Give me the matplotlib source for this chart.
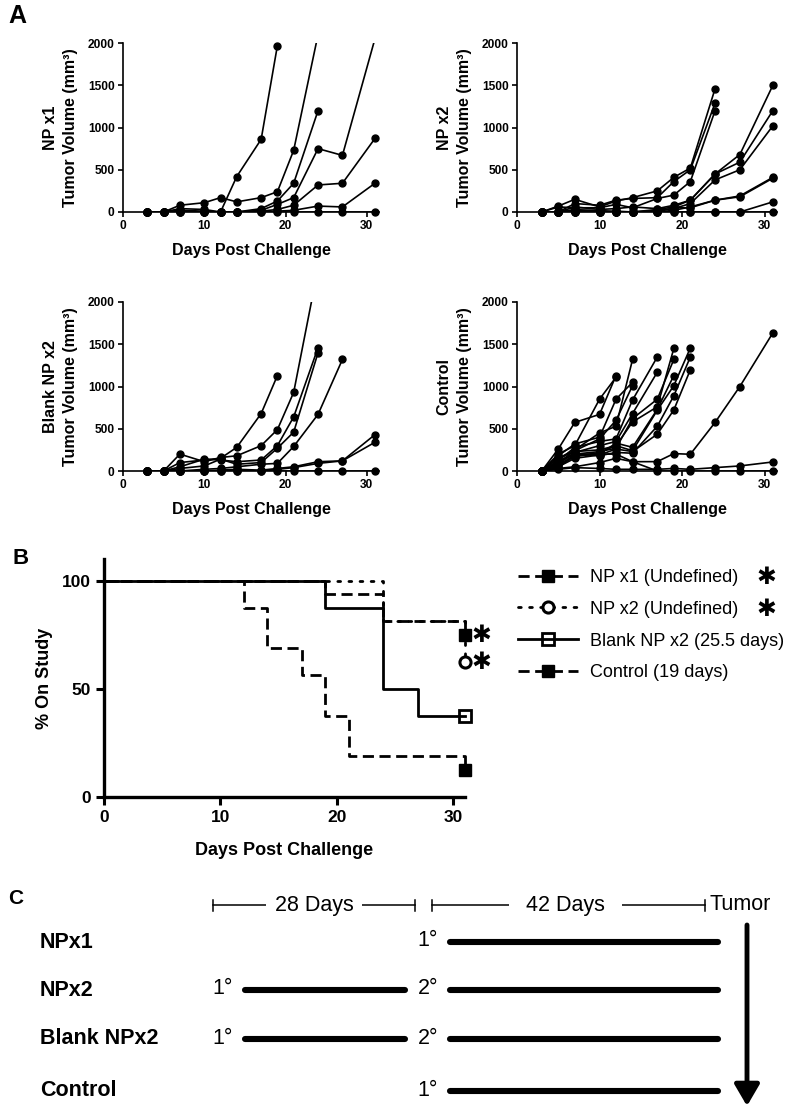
import numpy as np
import matplotlib
matplotlib.use("Agg")
import matplotlib.pyplot as plt
from matplotlib.lines import Line2D

plt.rcParams['font.family'] = ['Liberation Sans', 'DejaVu Sans']

# measurement days for the tumor curves
days = [3, 5, 7, 10, 12, 14, 17, 19, 21, 24, 27, 31]

# tumor volume (mm3) per mouse, each list runs from day 3 until the mouse left the study
np1_mice = [
    [0, 0, 40, 30, 0, 420, 860, 1970],
    [0, 0, 80, 110, 170, 120, 170, 240, 730, 2100],
    [0, 0, 20, 10, 0, 0, 40, 130, 340, 1200],
    [0, 0, 10, 0, 0, 0, 20, 90, 170, 750, 670, 2050],
    [0, 0, 0, 0, 0, 0, 10, 30, 80, 320, 340, 870],
    [0, 0, 0, 0, 0, 0, 0, 10, 20, 70, 60, 340],
    [0, 0, 0, 0, 0, 0, 0, 0, 0, 0, 0, 0],
]
np2_mice = [
    [0, 70, 150, 60, 130, 170, 250, 410, 520, 1460],
    [0, 0, 100, 80, 140, 160, 170, 360, 500, 1290],
    [0, 60, 50, 50, 90, 50, 160, 200, 360, 1200],
    [0, 0, 60, 30, 40, 60, 40, 80, 140, 450, 680, 1500],
    [0, 0, 20, 20, 0, 0, 30, 60, 140, 450, 590, 1200],
    [0, 0, 0, 0, 0, 0, 20, 40, 100, 380, 500, 1020],
    [0, 0, 30, 10, 10, 0, 0, 50, 50, 140, 190, 410],
    [0, 0, 0, 0, 0, 0, 0, 20, 60, 140, 180, 400],
    [0, 0, 0, 0, 0, 0, 0, 0, 0, 0, 0, 120],
    [0, 0, 0, 0, 0, 0, 0, 0, 0, 0, 0, 0],
]
blank_mice = [
    [0, 0, 100, 130, 150, 280, 680, 1130],
    [0, 0, 200, 110, 160, 180, 300, 490, 930, 2400],
    [0, 0, 50, 140, 130, 110, 130, 300, 640, 1460],
    [0, 0, 30, 60, 140, 80, 100, 270, 460, 1400],
    [0, 0, 0, 20, 30, 50, 80, 90, 290, 670, 1320],
    [0, 0, 0, 0, 10, 20, 10, 30, 50, 110, 120, 430],
    [0, 0, 0, 0, 0, 0, 0, 20, 40, 90, 120, 340],
    [0, 0, 0, 0, 0, 0, 0, 0, 0, 0, 0, 0],
]
control_mice = [
    [0, 260, 575, 670, 1130],
    [0, 200, 300, 850, 1110],
    [0, 150, 250, 450, 530, 1320],
    [0, 180, 320, 400, 850, 1050],
    [0, 100, 240, 380, 600, 1010],
    [0, 120, 280, 350, 380, 840, 1350],
    [0, 90, 220, 300, 350, 680, 1170],
    [0, 150, 230, 250, 300, 580, 760, 1450],
    [0, 110, 200, 230, 270, 620, 850, 1320],
    [0, 80, 180, 200, 330, 280, 730, 1130],
    [0, 60, 170, 220, 300, 240, 720, 1010, 1456],
    [0, 100, 200, 180, 220, 210, 530, 890, 1349],
    [0, 50, 150, 190, 260, 230, 436, 722, 1198],
    [0, 40, 200, 200, 200, 110, 111, 206, 198, 575, 1000, 1635],
    [0, 30, 50, 100, 150, 110, 0, 0, 0, 0, 0, 0],
    [0, 20, 40, 30, 20, 20, 20, 30, 20, 40, 60, 107],
]

# Kaplan-Meier steps (% on study)
km_np1_t = [0, 19, 24, 31]
km_np1_s = [100, 93.75, 81.25, 75]
km_np2_t = [0, 24, 31]
km_np2_s = [100, 81.25, 62.5]
km_blank_t = [0, 19, 24, 27, 31]
km_blank_s = [100, 87.5, 50, 37.5, 37.5]
km_ctrl_t = [0, 12, 14, 17, 19, 21, 31]
km_ctrl_s = [100, 87.5, 68.75, 56.25, 37.5, 18.75, 12.5]

km_labels = ['NP x1 (Undefined)', 'NP x2 (Undefined)',
             'Blank NP x2 (25.5 days)', 'Control (19 days)']

# schedule (panel C)
c_groups = ['NPx1', 'NPx2', 'Blank NPx2', 'Control']
c_doses = [['', '1°'], ['1°', '2°'], ['1°', '2°'], ['', '1°']]
c_intervals = ['28 Days', '42 Days']

W, H = 800, 1110
fig = plt.figure(figsize=(W / 100, H / 100), dpi=100)


def px_axes(left, top, right, bottom):
    return fig.add_axes([left / W, 1 - bottom / H, (right - left) / W, (bottom - top) / H])


def tumor_panel(ax, mice, name):
    for v in mice:
        d = np.array(days[:len(v)])
        v = np.array(v, float)
        ax.plot(d, v, color='k', lw=1.2, zorder=2)
        keep = v <= 2000
        ax.plot(d[keep], v[keep], 'o', color='k', ms=5, clip_on=False, zorder=3)
    ax.set_xlim(0, 31.5)
    ax.set_ylim(0, 2000)
    ax.set_xticks([0, 10, 20, 30])
    ax.set_yticks([0, 500, 1000, 1500, 2000])
    for s in ['top', 'right']:
        ax.spines[s].set_visible(False)
    for s in ['left', 'bottom']:
        ax.spines[s].set_linewidth(1.2)
    ax.tick_params(width=1.2, length=3.5, labelsize=8.6, pad=2.5)
    for lab in ax.get_xticklabels() + ax.get_yticklabels():
        lab.set_fontweight('bold')
    ax.set_xlabel('Days Post Challenge', fontsize=11.5, fontweight='bold', labelpad=8)
    ax.set_ylabel(name + '\nTumor Volume (mm³)', fontsize=11.5, fontweight='bold',
                  labelpad=7, linespacing=1.45)


tumor_panel(px_axes(123, 43, 379, 212), np1_mice, 'NP x1')
tumor_panel(px_axes(517, 43, 777, 212), np2_mice, 'NP x2')
tumor_panel(px_axes(123, 302, 379, 471), blank_mice, 'Blank NP x2')
tumor_panel(px_axes(517, 302, 777, 471), control_mice, 'Control')

# ---- panel B
axb = px_axes(104, 559, 465, 797)
lw = 2.0
axb.plot(km_np1_t, km_np1_s, drawstyle='steps-post', color='k', lw=lw,
         dashes=(4, 2), marker='s', ms=8, markevery=[-1], clip_on=False, zorder=4)
axb.plot(km_np2_t, km_np2_s, drawstyle='steps-post', color='k', lw=lw,
         dashes=(1, 3), dash_capstyle='round', marker='o', ms=8, mew=2.2,
         mfc='white', markevery=[-1], clip_on=False, zorder=4)
axb.plot(km_blank_t, km_blank_s, drawstyle='steps-post', color='k', lw=lw,
         marker='s', ms=8, mew=2, mfc='none', markevery=[-1], clip_on=False, zorder=3)
axb.plot(km_ctrl_t, km_ctrl_s, drawstyle='steps-post', color='k', lw=lw,
         dashes=(4, 2), marker='s', ms=8, markevery=[-1], clip_on=False, zorder=3)
axb.set_xlim(0, 31)
axb.set_ylim(0, 110)
axb.set_xticks([0, 10, 20, 30])
axb.set_yticks([0, 50, 100])
for s in ['top', 'right']:
    axb.spines[s].set_visible(False)
for s in ['left', 'bottom']:
    axb.spines[s].set_linewidth(2.4)
axb.tick_params(width=2.2, length=6, labelsize=12.5)
for lab in axb.get_xticklabels() + axb.get_yticklabels():
    lab.set_fontweight('bold')
axb.set_xlabel('Days Post Challenge', fontsize=13, fontweight='bold', labelpad=12)
axb.set_ylabel('% On Study', fontsize=13, fontweight='bold', labelpad=6)
for s_end in (km_np1_s[-1], km_np2_s[-1]):
    axb.text(32.4, s_end, '✱', family='DejaVu Sans', fontsize=17, va='center',
             ha='center', clip_on=False)

hl = [Line2D([], [], color='k', lw=lw, dashes=(4, 2), marker='s', ms=8),
      Line2D([], [], color='k', lw=lw, dashes=(1, 3), dash_capstyle='round',
             marker='o', ms=8, mew=2.2, mfc='white'),
      Line2D([], [], color='k', lw=lw, marker='s', ms=8, mew=2, mfc='none'),
      Line2D([], [], color='k', lw=lw, dashes=(4, 2), marker='s', ms=8)]
fig.legend(hl, km_labels, loc='upper left', bbox_to_anchor=(518 / W, 1 - 569 / H),
           frameon=False, fontsize=13, handlelength=3.3, handletextpad=0.7,
           labelspacing=0.82, borderpad=0, borderaxespad=0)
for row in range(2):
    fig.text(766 / W, 1 - (577 + row * 32.5) / H, '✱', family='DejaVu Sans',
             fontsize=17, ha='center', va='center')

# ---- panel C (drawn in pixel units)
axc = fig.add_axes([0, 0, 1, 1])
axc.set_xlim(0, W)
axc.set_ylim(H, 0)
axc.axis('off')
axc.patch.set_alpha(0)

slot_left = [245, 450]
slot_right = [405, 718]
brk_left = [213, 432]
brk_right = [415, 705]
timeline_y = 905
for i, txt in enumerate(c_intervals):
    axc.plot([brk_left[i], brk_right[i]], [timeline_y, timeline_y], color='k', lw=1.1)
    for xx in (brk_left[i], brk_right[i]):
        axc.plot([xx, xx], [timeline_y - 5.5, timeline_y + 5.5], color='k', lw=1.1)
    axc.text((brk_left[i] + brk_right[i]) / 2 - (0 if i == 0 else 3), timeline_y, txt,
             fontsize=15.5, ha='center', va='center',
             bbox=dict(fc='white', ec='none', pad=6 if i == 0 else 12))
axc.text(710, timeline_y, 'Tumor', fontsize=15.5, ha='left', va='center')

row_y = [942, 990, 1039, 1091]
for g, doses, yy in zip(c_groups, c_doses, row_y):
    axc.text(40, yy, g, fontsize=15.5, fontweight='bold', ha='left', va='center')
    for i, dose in enumerate(doses):
        if not dose:
            continue
        axc.text(slot_left[i] - 12, yy - 1, dose, fontsize=15.5, ha='right', va='center')
        axc.plot([slot_left[i], slot_right[i]], [yy, yy], color='k', lw=4.4,
                 solid_capstyle='round')

axc.annotate('', xy=(747, 1106), xytext=(747, 925),
             arrowprops=dict(arrowstyle='-|>,head_length=0.65,head_width=0.38',
                             mutation_scale=20, lw=3.5, color='k', shrinkA=0, shrinkB=0))

# panel letters
fig.text(8 / W, 1 - 16 / H, 'A', fontsize=18, fontweight='bold', va='center')
fig.text(13 / W, 1 - 559 / H, 'B', fontsize=16, fontweight='bold', va='center')
fig.text(8 / W, 1 - 898 / H, 'C', fontsize=15, fontweight='bold', va='center')

fig.savefig('out.png', dpi=100)
